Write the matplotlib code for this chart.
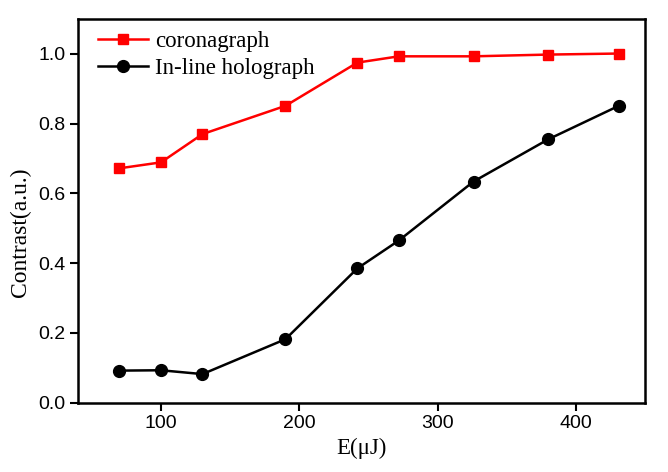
import matplotlib
matplotlib.use("Agg")
import matplotlib.pyplot as plt

energy = [70, 100, 130, 190, 242, 272, 326, 380, 431]
coronagraph = [0.672, 0.689, 0.770, 0.851, 0.975, 0.993, 0.993, 0.998, 1.001]
holograph = [0.092, 0.093, 0.082, 0.182, 0.385, 0.465, 0.634, 0.755, 0.851]
xticks = [100, 200, 300, 400]
yticks = [0.0, 0.2, 0.4, 0.6, 0.8, 1.0]

fig = plt.figure(figsize=(6.68, 4.72), dpi=100)
ax = fig.add_axes([78/668, 1-402.7/472, (645-78)/668, (402.7-19)/472])

ax.plot(energy, coronagraph, color="#ff0000", lw=1.8, marker="s", ms=7.5,
        label="coronagraph")
ax.plot(energy, holograph, color="black", lw=1.8, marker="o", ms=8.5,
        label="In-line holograph")

ax.set_xlim(40, 450)
ax.set_ylim(0, 1.1)
ax.set_xticks(xticks)
ax.set_yticks(yticks)
ax.set_yticklabels([f"{v:.1f}" for v in yticks])
for lab in ax.get_xticklabels() + ax.get_yticklabels():
    lab.set_fontfamily("Liberation Sans")
    lab.set_fontsize(14)
ax.tick_params(direction="out", length=6, width=1.5, pad=3)
for s in ax.spines.values():
    s.set_linewidth(1.8)

ax.set_xlabel("E(μJ)", fontfamily="Liberation Serif", fontsize=16.5, labelpad=4)
ax.set_ylabel("Contrast(a.u.)", fontfamily="Liberation Serif", fontsize=17)
ax.yaxis.set_label_coords(-0.083, 0.445)

leg = ax.legend(loc="upper left", frameon=False,
                prop={"family": "Liberation Serif", "size": 16.5},
                handlelength=2.2, handletextpad=0.3, labelspacing=0.25,
                borderaxespad=0.2, bbox_to_anchor=(0.011, 1.005))

fig.savefig("out.png", dpi=100)
